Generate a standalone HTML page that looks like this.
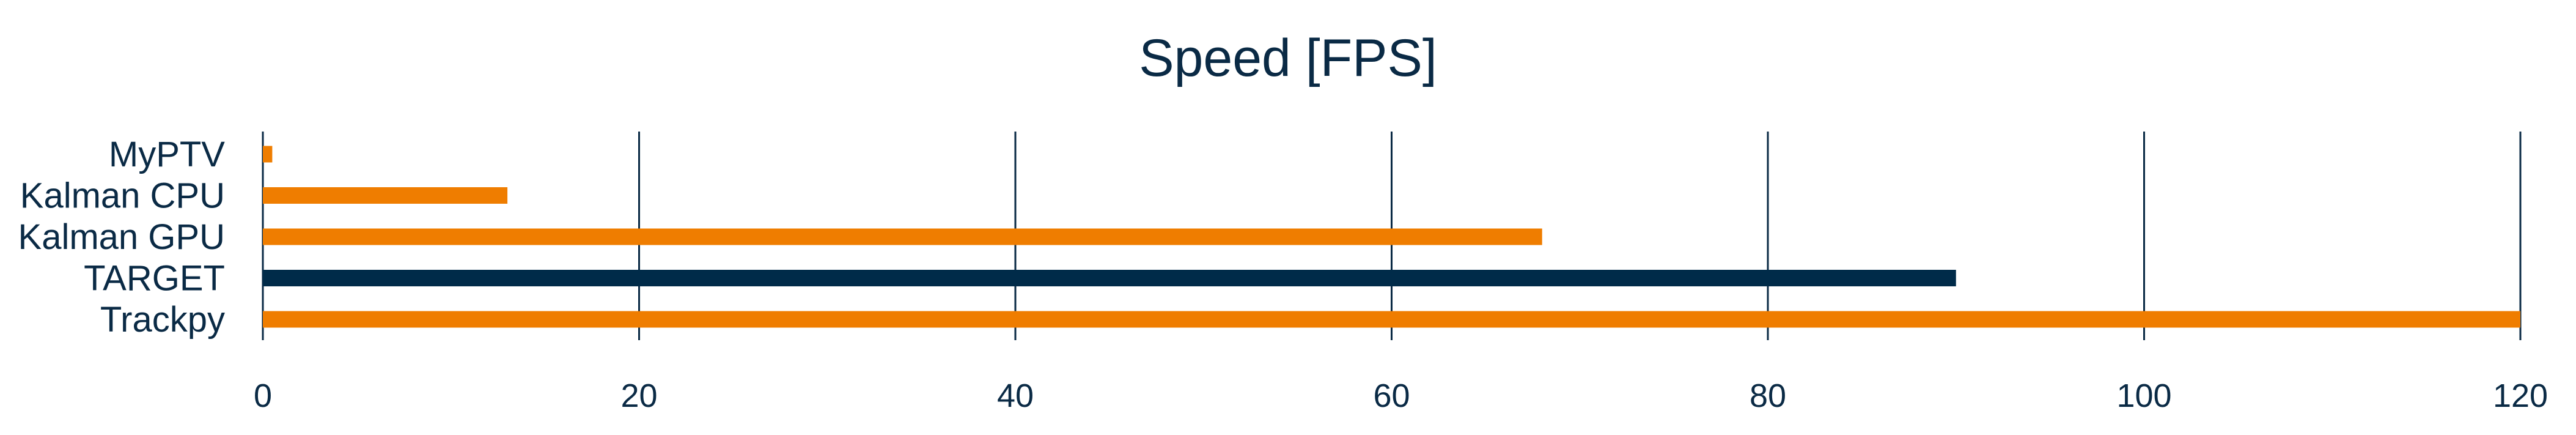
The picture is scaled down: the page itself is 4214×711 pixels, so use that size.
<!DOCTYPE html>
<html><head><meta charset="utf-8"><style>
html,body{margin:0;padding:0;background:#fff;}
svg{display:block;font-family:"Liberation Sans",sans-serif;}
</style></head><body>
<svg id="chart" width="4214" height="711" viewBox="0 0 4214 711">
<text x="2107" y="124" text-anchor="middle" font-size="86" fill="#0a2a45">Speed [FPS]</text>
<g id="grid"></g><g id="bars"></g><g id="labels"></g><g id="ticks"></g>
</svg>
<script>
const categories = ["MyPTV","Kalman CPU","Kalman GPU","TARGET","Trackpy"];
const values = [0.5, 13, 68, 90, 120];
const barColors = ["#EF7D00","#EF7D00","#EF7D00","#002B49","#EF7D00"];
const tickValues = [0,20,40,60,80,100,120];
const tickLabels = ["0","20","40","60","80","100","120"];

const X0=430, X1=4123, XMAX=120, TOP=215, BOT=556, ROW0=252, ROWSTEP=67.5, BH=27;
const ns="http://www.w3.org/2000/svg";
function xs(v){return X0+(X1-X0)*v/XMAX;}
function ys(i){return ROW0+ROWSTEP*i;}
const grid=document.getElementById('grid'),bars=document.getElementById('bars'),labels=document.getElementById('labels'),ticks=document.getElementById('ticks');
tickValues.forEach((t,i)=>{
  const l=document.createElementNS(ns,'line');
  l.setAttribute('x1',xs(t));l.setAttribute('x2',xs(t));l.setAttribute('y1',TOP);l.setAttribute('y2',BOT);
  l.setAttribute('stroke','#0a2a45');l.setAttribute('stroke-width','3');
  
  
  grid.appendChild(l);
  const tx=document.createElementNS(ns,'text');
  tx.setAttribute('x',xs(t));tx.setAttribute('y',665);tx.setAttribute('text-anchor','middle');
  tx.setAttribute('font-size','54');tx.setAttribute('fill','#0a2a45');tx.textContent=tickLabels[i];
  
  
  ticks.appendChild(tx);
});
categories.forEach((c,i)=>{
  const r=document.createElementNS(ns,'rect');
  r.setAttribute('x',xs(0));r.setAttribute('y',ys(i)-BH/2);
  r.setAttribute('width',xs(values[i])-xs(0));r.setAttribute('height',BH);
  r.setAttribute('fill',barColors[i]);
  
  
  bars.appendChild(r);
  const tx=document.createElementNS(ns,'text');
  tx.setAttribute('x',368);tx.setAttribute('y',ys(i)+20);tx.setAttribute('text-anchor','end');
  tx.setAttribute('font-size','58');tx.setAttribute('fill','#0a2a45');tx.textContent=c;
  
  
  labels.appendChild(tx);
});
</script>
</body></html>
